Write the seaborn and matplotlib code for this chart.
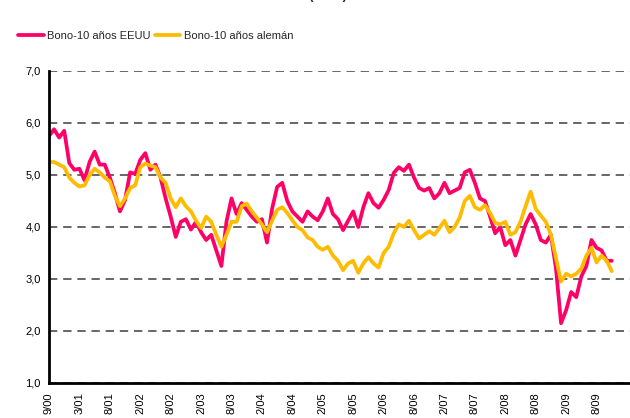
import numpy as np
import pandas as pd
import matplotlib
matplotlib.use('Agg')  # no display
import matplotlib.pyplot as plt
import seaborn as sns
from matplotlib.ticker import FuncFormatter

# 10-year bond yields (%), one reading per period, Sep 2000 - Oct 2009
bono_eeuu = [
    5.75, 5.88, 5.72, 5.85, 5.23, 5.10, 5.12, 4.90, 5.25, 5.45,
    5.20, 5.20, 4.95, 4.65, 4.30, 4.52, 5.05, 5.02, 5.29, 5.42,
    5.10, 5.20, 4.95, 4.55, 4.20, 3.81, 4.10, 4.15, 3.95, 4.10,
    3.90, 3.75, 3.85, 3.55, 3.25, 4.10, 4.55, 4.25, 4.46, 4.33,
    4.20, 4.10, 4.15, 3.70, 4.35, 4.77, 4.85, 4.50, 4.30, 4.20,
    4.10, 4.30, 4.20, 4.13, 4.30, 4.55, 4.25, 4.15, 3.94, 4.12,
    4.30, 4.00, 4.38, 4.65, 4.46, 4.37, 4.52, 4.71, 5.04, 5.15,
    5.08, 5.20, 4.95, 4.75, 4.70, 4.75, 4.55, 4.65, 4.85, 4.65,
    4.70, 4.75, 5.05, 5.10, 4.85, 4.55, 4.50, 4.20, 3.88, 4.00,
    3.65, 3.75, 3.45, 3.75, 4.05, 4.25, 4.05, 3.75, 3.70, 3.85,
    3.20, 2.15, 2.40, 2.75, 2.65, 3.05, 3.25, 3.75, 3.60, 3.55,
    3.35, 3.35,
]
bono_aleman = [
    5.25, 5.25, 5.20, 5.15, 4.95, 4.85, 4.78, 4.80, 5.00, 5.12,
    5.05, 4.95, 4.88, 4.60, 4.40, 4.55, 4.75, 4.80, 5.15, 5.22,
    5.18, 5.15, 4.95, 4.85, 4.55, 4.38, 4.55, 4.40, 4.30, 4.12,
    3.98, 4.20, 4.10, 3.85, 3.62, 3.85, 4.10, 4.10, 4.40, 4.45,
    4.30, 4.18, 4.05, 3.90, 4.12, 4.33, 4.38, 4.27, 4.13, 4.00,
    3.94, 3.80, 3.75, 3.62, 3.56, 3.62, 3.45, 3.35, 3.17, 3.30,
    3.35, 3.12, 3.30, 3.42, 3.30, 3.22, 3.50, 3.62, 3.88, 4.05,
    4.00, 4.12, 3.94, 3.78, 3.85, 3.92, 3.85, 3.98, 4.12, 3.90,
    4.00, 4.18, 4.50, 4.60, 4.38, 4.33, 4.42, 4.27, 4.08, 4.05,
    4.10, 3.85, 3.90, 4.10, 4.40, 4.68, 4.35, 4.22, 4.10, 3.85,
    3.40, 2.95, 3.10, 3.05, 3.10, 3.20, 3.45, 3.60, 3.32, 3.45,
    3.35, 3.15,
]
tick_labels = ['9/00', '3/01', '8/01', '2/02', '8/02', '2/03', '8/03', '2/04',
               '8/04', '2/05', '8/05', '2/06', '8/06', '2/07', '8/07', '2/08',
               '8/08', '2/09', '8/09']
series_names = ['Bono-10 años EEUU', 'Bono-10 años alemán']
colors = ['#FF0066', '#FFBB00']

periodo = np.arange(len(bono_eeuu))
df = pd.DataFrame({
    'periodo': np.concatenate([periodo, periodo]),
    'serie': [series_names[0]] * len(bono_eeuu) + [series_names[1]] * len(bono_aleman),
    'valor': bono_eeuu + bono_aleman,
})

sns.set_style('white')
plt.rcParams['font.family'] = ['Liberation Sans', 'DejaVu Sans']

fig = plt.figure(figsize=(6.3, 4.18), dpi=100)
ax = fig.add_axes([49 / 630, 35 / 418, 581 / 630, 312 / 418])

sns.lineplot(data=df, x='periodo', y='valor', hue='serie', palette=colors,
             linewidth=2.7, ax=ax, legend=False)

ax.set_xlim(0, 114.6)
ax.set_ylim(1, 7)
ax.set_yticks(np.arange(1, 8))
ax.yaxis.set_major_formatter(FuncFormatter(lambda v, _: f'{v:.1f}'.replace('.', ',')))
ax.set_xticks(np.arange(len(tick_labels)) * 6)
ax.set_xticklabels(tick_labels, rotation=90, va='top')
ax.set_xlabel('')
ax.set_ylabel('')

ax.yaxis.grid(True, linestyle=(0, (5, 3.5)), color='#4d4d4d', linewidth=1.2)
ax.set_axisbelow(True)
sns.despine(ax=ax)
for side in ['left', 'bottom']:
    ax.spines[side].set_color('black')
    ax.spines[side].set_linewidth(2)
ax.tick_params(axis='both', direction='out', length=4, width=1.5,
               colors='black', labelsize=8, pad=3)
ax.tick_params(axis='y', length=3)

# title sits above the visible area, only its lowest strokes show
fig.text(347 / 630, 1 + 1.0 / 418, 'Rentabilidad bonos a 10 años (en %)',
         ha='right', va='baseline', fontsize=9, fontweight='bold')

handles = ax.get_lines()[:2]
fig.legend(handles, series_names, loc='center left',
           bbox_to_anchor=(18 / 630, 1 - 36 / 418), ncol=2, frameon=False,
           fontsize=8, handlelength=2.3, handletextpad=0.3, columnspacing=0.4,
           borderpad=0, borderaxespad=0)

fig.savefig('out.png', dpi=100)
plt.close(fig)
